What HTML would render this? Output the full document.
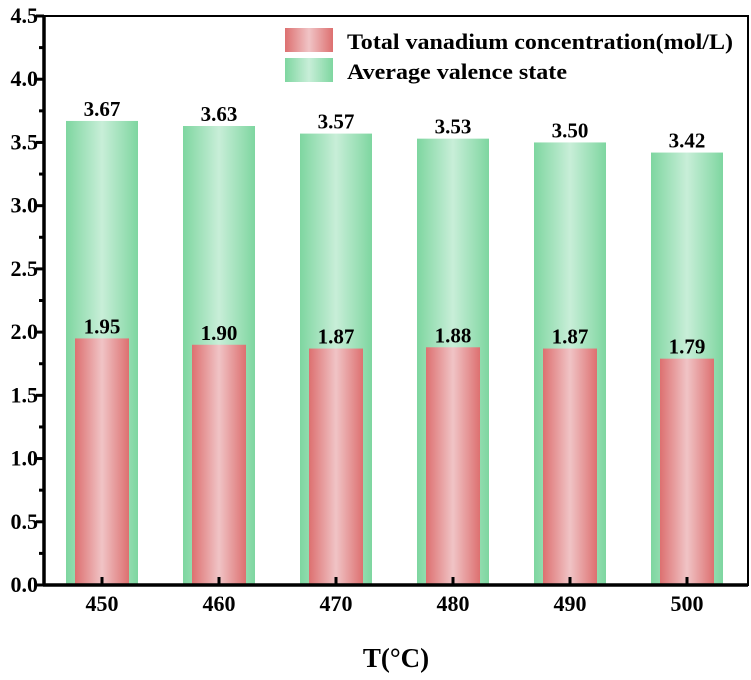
<!DOCTYPE html>
<html><head><meta charset="utf-8"><style>
body{margin:0;background:#fff}
text{font-family:"Liberation Serif",serif;font-weight:bold;fill:#000}
</style></head><body>
<svg width="751" height="675" xmlns="http://www.w3.org/2000/svg">
<defs>
<linearGradient id="gr" x1="0" x2="1"><stop offset="0" stop-color="#dd7070"/><stop offset="0.5" stop-color="#f0c4c6"/><stop offset="1" stop-color="#dd7070"/></linearGradient>
<linearGradient id="gg" x1="0" x2="1"><stop offset="0" stop-color="#7ed6a0"/><stop offset="0.5" stop-color="#c8eed8"/><stop offset="1" stop-color="#7ed6a0"/></linearGradient>
</defs>
<g id="plot"></g>
</svg>
<script>
const categories=["450","460","470","480","490","500"];
const valence=[3.67,3.63,3.57,3.53,3.50,3.42];
const conc=[1.95,1.90,1.87,1.88,1.87,1.79];
const yTicks=[0,0.5,1,1.5,2,2.5,3,3.5,4,4.5];
const L=44,R=748,T=16,B=585,yMax=4.5;
const y=v=>B-(v/yMax)*(B-T);
const x=i=>102+i*117;
const NS="http://www.w3.org/2000/svg";
const g=document.getElementById('plot');
function el(t,a,txt){const e=document.createElementNS(NS,t);for(const k in a)e.setAttribute(k,a[k]);if(txt!=null)e.textContent=txt;g.appendChild(e);return e;}
categories.forEach((c,i)=>{
 const gb=el('rect',{x:x(i)-36,y:y(valence[i]),width:72,height:B-y(valence[i]),fill:'url(#gg)'});
 
 
 const rb=el('rect',{x:x(i)-27,y:y(conc[i]),width:54,height:B-y(conc[i]),fill:'url(#gr)'});
 
 
 const t1=el('text',{x:x(i),y:y(valence[i])-5,'text-anchor':'middle','font-size':21},valence[i].toFixed(2));
 
 
 const t2=el('text',{x:x(i),y:y(conc[i])-5,'text-anchor':'middle','font-size':21},conc[i].toFixed(2));
 
 
 const xl=el('text',{x:x(i),y:B+26,'text-anchor':'middle','font-size':22},c);
 
 
 el('line',{x1:x(i),x2:x(i),y1:B,y2:B-8,stroke:'#000','stroke-width':3});
});
yTicks.forEach(v=>{
 el('line',{x1:L,x2:L-8,y1:y(v),y2:y(v),stroke:'#000','stroke-width':3});
 if(v<yMax) el('line',{x1:L,x2:L-5,y1:y(v+0.25),y2:y(v+0.25),stroke:'#000','stroke-width':3});
 const t=el('text',{x:L-6,y:y(v)+7,'text-anchor':'end','font-size':22},v.toFixed(1));
 
 
});
const fr=el('rect',{x:L,y:T,width:R-L,height:B-T,fill:'none',stroke:'#000','stroke-width':2});


el('line',{x1:L,x2:L,y1:T,y2:B+1,stroke:'#000','stroke-width':3.5});
el('line',{x1:L-1,x2:R,y1:B,y2:B,stroke:'#000','stroke-width':3.5});
const xt=el('text',{x:396,y:667,'text-anchor':'middle','font-size':27},'T(°C)');


const l1=el('rect',{x:285,y:28,width:48,height:24,fill:'url(#gr)'});


const l2=el('rect',{x:285,y:58,width:48,height:24,fill:'url(#gg)'});


const lt1=el('text',{x:347,y:49,'font-size':22,textLength:386,lengthAdjust:'spacingAndGlyphs'},'Total vanadium concentration(mol/L)');


const lt2=el('text',{x:347,y:79,'font-size':22,textLength:220,lengthAdjust:'spacingAndGlyphs'},'Average valence state');


</script>
</body></html>
